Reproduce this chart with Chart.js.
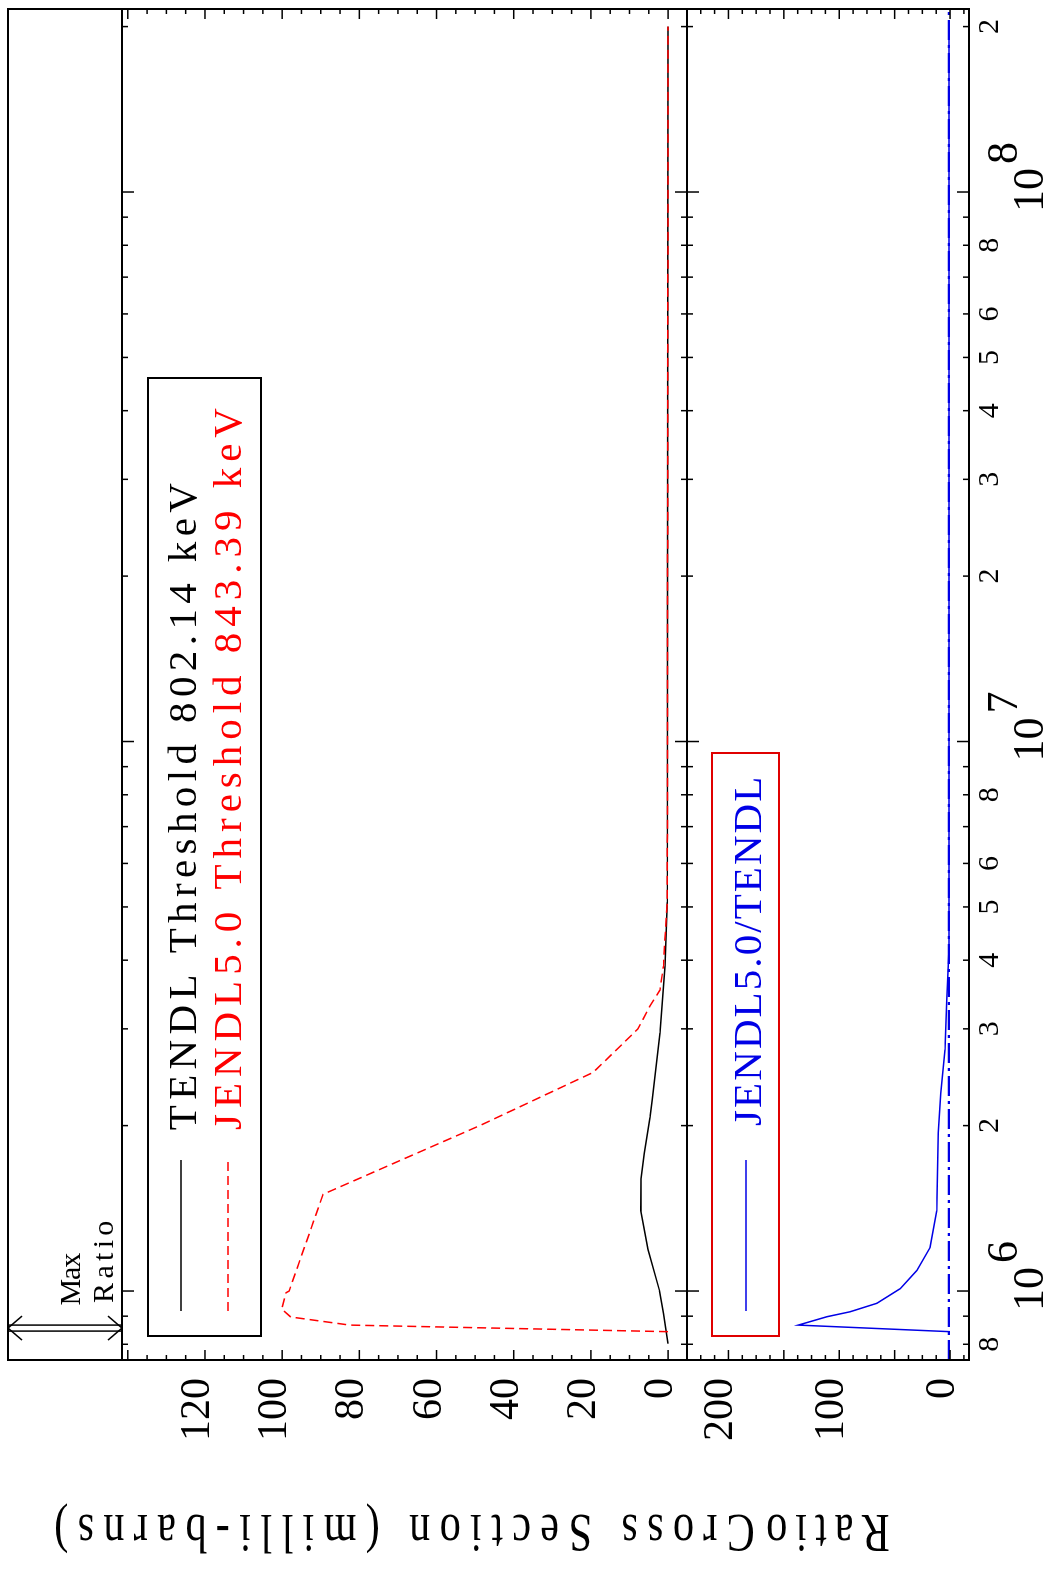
<!DOCTYPE html>
<html>
<head>
<meta charset="utf-8">
<title>TENDL / JENDL5.0 threshold cross section</title>
<script src="https://cdn.jsdelivr.net/npm/chart.js@4.4.1/dist/chart.umd.min.js"></script>
<style>
  html, body { margin: 0; padding: 0; background: #fff; overflow: hidden; }
  #page { position: relative; width: 1048px; height: 1573px; overflow: hidden; }
  /* the plot is drawn landscape and turned a quarter turn counter-clockwise */
  #rot {
    position: absolute; left: 0; top: 0; width: 1573px; height: 1048px;
    transform-origin: 0 0; transform: translate(0, 1573px) rotate(-90deg);
  }
</style>
</head>
<body>
<div id="page"><div id="rot"><canvas id="chart" width="1573" height="1048"></canvas></div></div>
<script>
// Energies in eV, cross sections in milli-barns
const tendlEnergy = [8.02e5, 9.1e5, 1.0e6, 1.19e6, 1.4e6, 1.6e6, 1.78e6, 2.07e6, 2.23e6, 2.95e6, 3.9e6, 5.1e6, 2.0e8];
const tendlXS = [0, 1.2, 2.2, 5.2, 7.1, 7.0, 6.2, 4.7, 4.1, 2.1, 0.8, 0.2, 0];

const jendlEnergy = [8.434e5, 8.67e5, 8.97e5, 9.27e5, 9.93e5, 1.0e6, 1.5e6, 2.0e6, 2.5e6, 3.0e6, 3.3e6, 3.53e6, 3.9e6, 4.4e6, 5.1e6, 2.0e8];
const jendlXS = [0, 82.5, 97.8, 100.1, 99.0, 98.2, 89.4, 48.8, 19.4, 7.8, 4.7, 2.1, 1.2, 0.8, 0.2, 0];

const ratioEnergy = [8.434e5, 8.67e5, 8.98e5, 9.17e5, 9.5e5, 1.01e6, 1.09e6, 1.2e6, 1.4e6, 1.94e6, 2.29e6, 2.75e6, 3.38e6, 4.2e6, 5.1e6, 2.0e8];
const ratioValues = [0, 137, 111, 90, 66, 45, 30, 18, 12, 10.6, 8.4, 4.5, 3.0, 1.0, 1.0, 1.0];

// ratio = 1 reference line
const unityEnergy = [7.49e5, 2.153e8];
const unityRatio = [1, 1];

// Tick labels
const energyTicks = [8e5, 9e5, 1e6, 2e6, 3e6, 4e6, 5e6, 6e6, 7e6, 8e6, 9e6,
  1e7, 2e7, 3e7, 4e7, 5e7, 6e7, 7e7, 8e7, 9e7, 1e8, 2e8];
const energyTickLabels = ["8", "", "10^6", "2", "3", "4", "5", "6", "", "8", "",
  "10^7", "2", "3", "4", "5", "6", "", "8", "", "10^8", "2"];
const xsTickLabels = [0, 20, 40, 60, 80, 100, 120];
const ratioTickLabels = [0, 100, 200];

const FONT = "'Liberation Serif', 'DejaVu Serif', serif";
const BLUE = "#0000e6";
const RED = "#ff0000";

function points(xs, ys) {
  return xs.map((x, i) => ({ x: x, y: ys[i] }));
}

// draw a string so that every character takes the same advance (plotter font look)
// squeeze < 1 narrows the glyphs horizontally
function spacedText(ctx, str, x, y, step, align, squeeze = 1) {
  ctx.save();
  let x0 = x;
  if (align === "center") x0 = x - (step * str.length) / 2;
  ctx.translate(x0, y);
  ctx.scale(squeeze, 1);
  const s = step / squeeze;
  ctx.letterSpacing = "0px";
  const w = ctx.measureText(str).width;
  const ls = (s * str.length - w) / str.length;
  ctx.letterSpacing = ls + "px";
  ctx.textAlign = "left";
  ctx.fillText(str, ls / 2, 0);
  ctx.restore();
}

const framePlugin = {
  id: "frame",
  afterDraw(chart) {
    const { ctx, chartArea: a, scales } = chart;
    const x = scales.x, yT = scales.yTop, yB = scales.yBot;
    const mid = yT.bottom;
    const seg = (x1, y1, x2, y2) => {
      ctx.beginPath(); ctx.moveTo(x1, y1); ctx.lineTo(x2, y2); ctx.stroke();
    };

    ctx.save();
    ctx.strokeStyle = "#000";
    ctx.lineWidth = 2;
    // frame: label strip on top, cross-section panel, ratio panel
    ctx.strokeRect(a.left, 8, a.right - a.left, a.bottom - 8);
    seg(a.left, a.top, a.right, a.top);
    seg(a.left, mid, a.right, mid);

    // energy ticks (inward, both sides of the panel divider)
    ctx.lineWidth = 1.5;
    energyTicks.forEach((e, i) => {
      const u = x.getPixelForValue(e);
      const len = energyTickLabels[i].includes("^") ? 12 : 6;
      seg(u, a.top, u, a.top + len);
      seg(u, mid - len, u, mid + len);
      seg(u, a.bottom - len, u, a.bottom);
    });

    // value ticks
    function valueTicks(scale, step, majorStep) {
      const start = Math.ceil(scale.min / step) * step;
      for (let v = start; v <= scale.max + 1e-9; v += step) {
        const p = scale.getPixelForValue(v);
        const r = v / majorStep;
        const len = Math.abs(r - Math.round(r)) < 1e-6 ? 10 : 5;
        seg(a.left, p, a.left + len, p);
        seg(a.right - len, p, a.right, p);
      }
    }
    valueTicks(yT, 5, 20);
    valueTicks(yB, 12.5, 50);

    // energy tick labels
    ctx.fillStyle = "#000";
    ctx.textBaseline = "alphabetic";
    energyTicks.forEach((e, i) => {
      const lab = energyTickLabels[i];
      if (!lab) return;
      const u = x.getPixelForValue(e);
      if (lab.includes("^")) {
        const [base, exp] = lab.split("^");
        ctx.font = "44px " + FONT;
        ctx.textAlign = "center";
        ctx.fillText(base, u + 2, a.bottom + 74);
        const w = ctx.measureText(base).width;
        ctx.textAlign = "left";
        ctx.fillText(exp, u + 2 + w / 2 + 4, a.bottom + 48);
      } else {
        ctx.font = "30px " + FONT;
        ctx.textAlign = "center";
        ctx.fillText(lab, u, a.bottom + 29);
      }
    });

    // axis titles, reading upward
    ctx.font = "54px " + FONT;
    const titles = [["Cross Section (milli-barns)", yT], ["Ratio", yB]];
    titles.forEach(([txt, s]) => {
      ctx.save();
      ctx.translate(58, (s.top + s.bottom) / 2);
      ctx.rotate(-Math.PI / 2);
      spacedText(ctx, txt, 0, 0, 26.3, "center", 0.78);
      ctx.restore();
    });

    // "Max Ratio" marker in the top strip
    const peak = ratioValues.indexOf(Math.max(...ratioValues));
    const u0 = x.getPixelForValue(ratioEnergy[peak]);
    ctx.lineWidth = 1.5;
    seg(u0, 8, u0, a.top);
    seg(u0 - 6, 8, u0 - 6, a.top);
    const uc = u0 - 3;
    seg(uc - 12, 22, uc, 8); seg(uc, 8, uc + 12, 22);
    seg(uc - 12, a.top - 14, uc, a.top); seg(uc, a.top, uc + 12, a.top - 14);
    ctx.font = "30px " + FONT;
    spacedText(ctx, "Max", u0 + 20, 80, 17.3);
    spacedText(ctx, "Ratio", u0 + 20, 113, 17.3);

    // legend, cross-section panel
    const lx = a.left + 24;
    ctx.lineWidth = 2;
    ctx.strokeRect(lx, a.top + 26, 958, 113);
    ctx.lineWidth = 1.5;
    seg(lx + 25, a.top + 59, lx + 176, a.top + 59);
    ctx.strokeStyle = RED;
    ctx.setLineDash([9, 5]);
    seg(lx + 25, a.top + 106, lx + 176, a.top + 106);
    ctx.setLineDash([]);
    ctx.font = "41px " + FONT;
    ctx.fillStyle = "#000";
    spacedText(ctx, "TENDL Threshold 802.14 keV", lx + 203, a.top + 74, 25.1);
    ctx.fillStyle = RED;
    spacedText(ctx, "JENDL5.0 Threshold 843.39 keV", lx + 203, a.top + 119, 25.1);

    // legend, ratio panel
    ctx.strokeStyle = "#e00000";
    ctx.lineWidth = 2;
    ctx.strokeRect(lx, yB.top + 25, 583, 67);
    ctx.strokeStyle = BLUE;
    ctx.lineWidth = 1.5;
    seg(lx + 25, yB.top + 59, lx + 176, yB.top + 59);
    ctx.fillStyle = BLUE;
    spacedText(ctx, "JENDL5.0/TENDL", lx + 209, yB.top + 74, 25.1);

    ctx.restore();
  }
};

const yTicks = {
  font: { family: FONT, size: 42 },
  color: "#000",
  padding: 18,
  labelOffset: -7,
  autoSkip: false,
};

new Chart(document.getElementById("chart"), {
  type: "scatter",
  data: {
    datasets: [
      {
        label: "JENDL5.0 Threshold 843.39 keV",
        data: points(jendlEnergy, jendlXS),
        yAxisID: "yTop",
        borderColor: RED,
        borderWidth: 1.5,
        borderDash: [9, 5],
      },
      {
        label: "TENDL Threshold 802.14 keV",
        data: points(tendlEnergy, tendlXS),
        yAxisID: "yTop",
        borderColor: "#000",
        borderWidth: 1.5,
      },
      {
        label: "JENDL5.0/TENDL",
        data: points(ratioEnergy, ratioValues),
        yAxisID: "yBot",
        borderColor: BLUE,
        borderWidth: 1.5,
      },
      {
        label: "unity",
        data: points(unityEnergy, unityRatio),
        yAxisID: "yBot",
        borderColor: BLUE,
        borderWidth: 2.2,
        borderDash: [20, 5, 3, 5],
      },
    ].map((d) => ({ ...d, showLine: true, pointRadius: 0, fill: false, tension: 0 })),
  },
  options: {
    responsive: false,
    animation: false,
    devicePixelRatio: 1,
    layout: { padding: { left: 0, right: 9, top: 122, bottom: 0 } },
    plugins: { legend: { display: false }, tooltip: { enabled: false } },
    scales: {
      x: {
        type: "logarithmic",
        position: "bottom",
        min: 7.49e5,
        max: 2.153e8,
        ticks: { display: false },
        grid: { display: false, drawTicks: false },
        border: { display: false },
        afterFit: (s) => { s.height = 79; },
      },
      // stacked axes are placed last-first, so the ratio panel comes first here
      yBot: {
        type: "linear",
        position: "left",
        stack: "panels",
        stackWeight: 282,
        min: -17.1,
        max: 237.4,
        afterBuildTicks: (s) => { s.ticks = ratioTickLabels.map((v) => ({ value: v })); },
        ticks: yTicks,
        grid: { display: false, drawTicks: false },
        border: { display: false },
        afterFit: (s) => { s.width = 213; },
      },
      yTop: {
        type: "linear",
        position: "left",
        stack: "panels",
        stackWeight: 565,
        min: -4.9,
        max: 141.5,
        afterBuildTicks: (s) => { s.ticks = xsTickLabels.map((v) => ({ value: v })); },
        ticks: yTicks,
        grid: { display: false, drawTicks: false },
        border: { display: false },
        afterFit: (s) => { s.width = 213; },
      },
    },
  },
  plugins: [framePlugin],
});
</script>
</body>
</html>
